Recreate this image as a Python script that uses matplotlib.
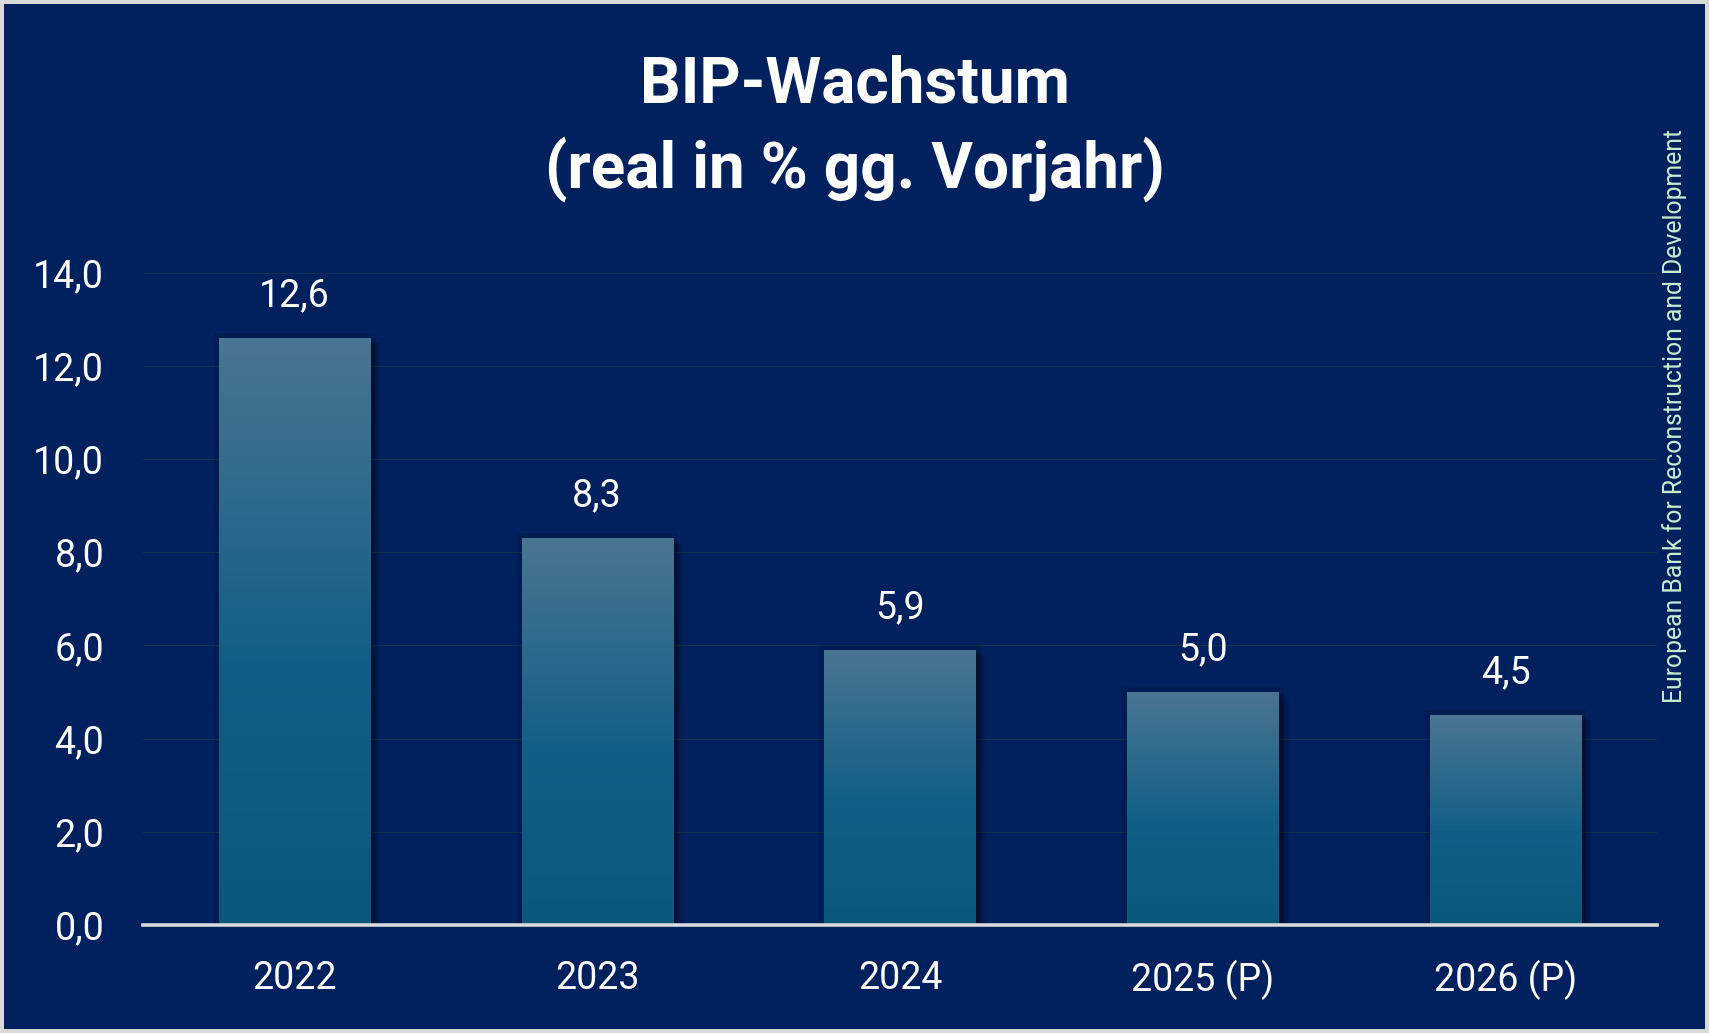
import numpy as np
import matplotlib
matplotlib.use('Agg')
import matplotlib.pyplot as plt
from matplotlib.colors import LinearSegmentedColormap
import matplotlib.patheffects as pe

# Daten
years = ['2022', '2023', '2024', '2025 (P)', '2026 (P)']
growth = [12.6, 8.3, 5.9, 5.0, 4.5]
yticks = [0, 2, 4, 6, 8, 10, 12, 14]
source = 'European Bank for Reconstruction and Development'

navy = '#00205E'
plt.rcParams['font.family'] = ['Roboto', 'DejaVu Sans']

fig = plt.figure(figsize=(17.09, 10.33), dpi=100)
fig.patch.set_facecolor(navy)
fig.patch.set_edgecolor('#D9D9D9')
fig.patch.set_linewidth(4.5)

ax = fig.add_axes([0.0837, 0.1045, 0.8859, 0.6317])
ax.set_facecolor(navy)

# weicher Schatten um die Balken
shadow = [pe.SimplePatchShadow(offset=(d, -d / 2), shadow_rgbFace='black', alpha=0.06)
          for d in range(1, 9)]
shadow.append(pe.Stroke(linewidth=7, foreground='black', alpha=0.12))
shadow.append(pe.Normal())

x = np.arange(len(years))
bars = ax.bar(x, growth, width=0.5, color='#0B5A7F', zorder=2, path_effects=shadow)

# Farbverlauf in den Balken
cmap = LinearSegmentedColormap.from_list('bar', [(0, '#0A587C'), (0.45, '#115F86'), (1.0, '#4B7592')])
grad = np.linspace(0, 1, 256).reshape(-1, 1)
for b in bars:
    im = ax.imshow(grad, extent=[b.get_x(), b.get_x() + b.get_width(), 0, b.get_height()],
                   aspect='auto', cmap=cmap, origin='lower', zorder=3)
    im.set_clip_path(b)

labels = [f'{v:.1f}'.replace('.', ',') for v in growth]
ax.bar_label(bars, labels=labels, padding=17, color='white', fontsize=27, zorder=4)

ax.set_xlim(-0.5, len(years) - 0.5)
ax.set_ylim(0, 14)
ax.set_xticks(x)
ax.set_xticklabels(years)
ax.set_yticks(yticks)
ax.set_yticklabels([f'{t:.1f}'.replace('.', ',') for t in yticks])
ax.tick_params(axis='x', length=0, pad=25, labelsize=27, labelcolor='white')
ax.tick_params(axis='y', length=0, pad=28, labelsize=27, labelcolor='white')

ax.grid(axis='y', color='#0F3350', linewidth=0.8, zorder=0)
ax.set_axisbelow(True)
for s in ax.spines.values():
    s.set_visible(False)
ax.axhline(0, color='#D9D9D9', linewidth=2.6, zorder=5, clip_on=False)

fig.text(0.5, 0.9175, 'BIP-Wachstum', ha='center', va='center', color='white',
         fontsize=46, fontweight='bold')
fig.text(0.5, 0.8365, '(real in % gg. Vorjahr)', ha='center', va='center', color='white',
         fontsize=46, fontweight='bold')

fig.text(0.98, 0.597, source, rotation=90, ha='center', va='center',
         color='#C6EFCE', fontsize=17.8)

fig.savefig('out.png', dpi=100, facecolor=fig.get_facecolor(), edgecolor=fig.get_edgecolor())
